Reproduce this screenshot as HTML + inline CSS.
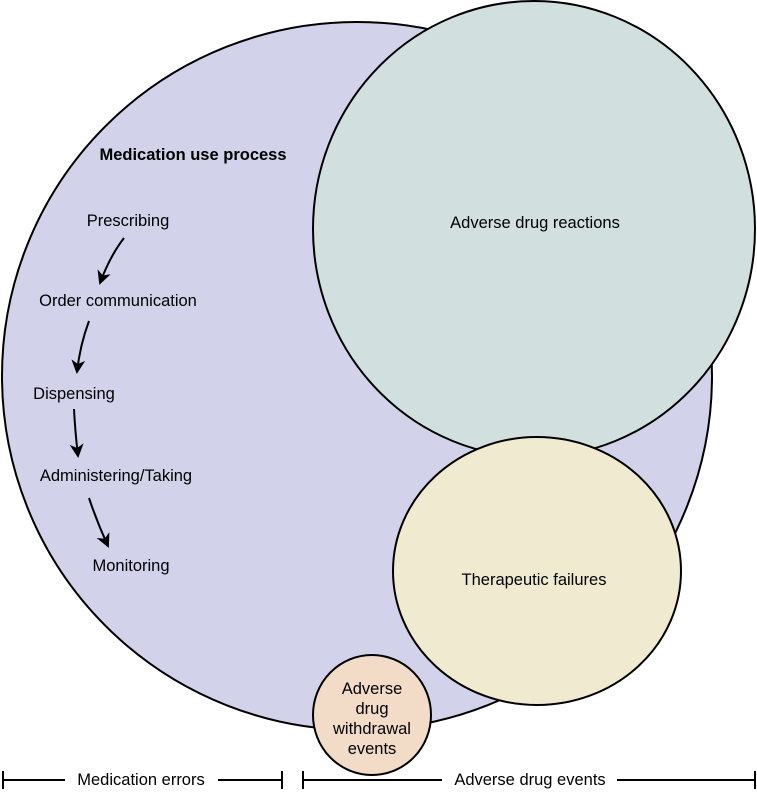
<!DOCTYPE html>
<html><head><style>body{margin:0;background:#fff}</style></head><body>
<svg width="757" height="790" xmlns="http://www.w3.org/2000/svg" font-family="Liberation Sans, sans-serif" font-size="16.5">
<defs><marker id="a" markerWidth="14" markerHeight="14" refX="12" refY="7" orient="auto" markerUnits="userSpaceOnUse"><path d="M0,0 L14,7 L0,14 L4,7 z" fill="#000"/></marker></defs>
<ellipse cx="357" cy="376" rx="355" ry="354" fill="#d2d2ea" stroke="#000" stroke-width="2"/>
<ellipse cx="534" cy="229" rx="221" ry="228" fill="#d2dfdf" stroke="#000" stroke-width="2"/>
<ellipse cx="537" cy="571" rx="144" ry="134" fill="#f0ebd0" stroke="#000" stroke-width="2"/>
<ellipse cx="372" cy="715" rx="59" ry="60" fill="#f2dcc8" stroke="#000" stroke-width="2"/>
<text x="193" y="160" text-anchor="middle" font-weight="bold">Medication use process</text>
<text x="128" y="226" text-anchor="middle">Prescribing</text>
<text x="118" y="306" text-anchor="middle">Order communication</text>
<text x="74" y="399" text-anchor="middle">Dispensing</text>
<text x="116" y="481" text-anchor="middle">Administering/Taking</text>
<text x="131" y="571" text-anchor="middle">Monitoring</text>
<path d="M124,238 Q110,256 100,283" fill="none" stroke="#000" stroke-width="2" marker-end="url(#a)"/>
<path d="M89,321 Q80,345 77,372" fill="none" stroke="#000" stroke-width="2" marker-end="url(#a)"/>
<path d="M74,409 Q75,430 78,456" fill="none" stroke="#000" stroke-width="2" marker-end="url(#a)"/>
<path d="M89,498 Q97,522 108,546" fill="none" stroke="#000" stroke-width="2" marker-end="url(#a)"/>
<text x="535" y="228" text-anchor="middle">Adverse drug reactions</text>
<text x="534" y="585" text-anchor="middle">Therapeutic failures</text>
<text x="372" y="694" text-anchor="middle">Adverse</text>
<text x="372" y="714" text-anchor="middle">drug</text>
<text x="372" y="734" text-anchor="middle">withdrawal</text>
<text x="372" y="754" text-anchor="middle">events</text>
<g stroke="#000" stroke-width="2">
<line x1="3" y1="780" x2="65" y2="780"/><line x1="218" y1="780" x2="282" y2="780"/>
<line x1="3" y1="771" x2="3" y2="789"/><line x1="282" y1="771" x2="282" y2="789"/>
<line x1="303" y1="780" x2="442" y2="780"/><line x1="617" y1="780" x2="755" y2="780"/>
<line x1="303" y1="771" x2="303" y2="789"/><line x1="755" y1="771" x2="755" y2="789"/>
</g>
<text x="141" y="785" text-anchor="middle">Medication errors</text>
<text x="530" y="785" text-anchor="middle">Adverse drug events</text>
</svg>
</body></html>
